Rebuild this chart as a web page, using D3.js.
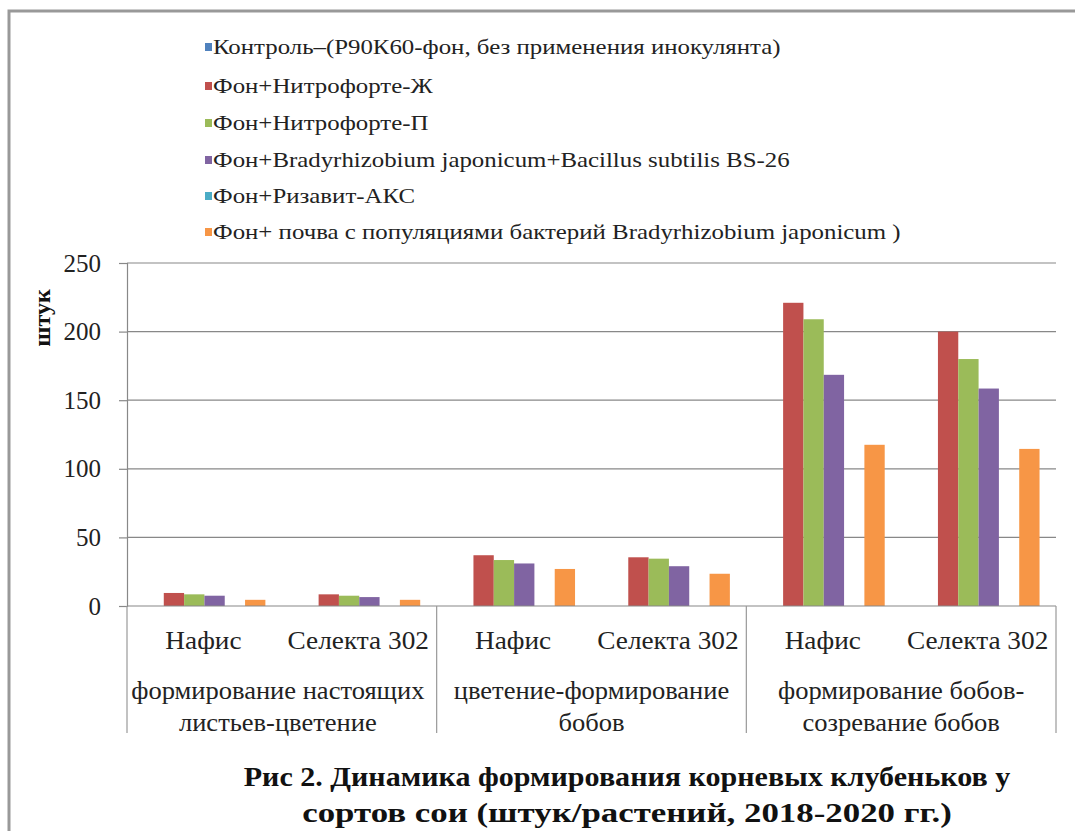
<!DOCTYPE html>
<html>
<head>
<meta charset="utf-8">
<script src="https://cdn.jsdelivr.net/npm/d3@7"></script>
<style>
  body { margin: 0; background: #fff; }
</style>
</head>
<body>
<div id="chart"></div>
<script>
// varieties and phases (two-level category axis)
const varieties = ['Нафис', 'Селекта 302', 'Нафис', 'Селекта 302', 'Нафис', 'Селекта 302'];
const phases = [
  ['формирование настоящих', 'листьев-цветение'],
  ['цветение-формирование', 'бобов'],
  ['формирование бобов-', 'созревание бобов']
];
const seriesNames = [
  'Контроль–(Р90К60-фон, без применения инокулянта)',
  'Фон+Нитрофорте-Ж',
  'Фон+Нитрофорте-П',
  'Фон+Bradyrhizobium  japonicum+Bacillus  subtilis BS-26',
  'Фон+Ризавит-АКС',
  'Фон+ почва с популяциями бактерий Bradyrhizobium  japonicum )'
];
const seriesColors = ['#4F81BD', '#C0504D', '#9BBB59', '#8064A2', '#4BACC6', '#F79646'];
// values per series, one per category (in order of varieties)
const control   = [0, 0, 0, 0, 0, 0];
const nitroZh   = [9.5, 8.5, 37, 35.5, 221, 200];
const nitroP    = [8.5, 7.5, 33.5, 34.5, 209, 180];
const bradyBac  = [7.5, 6.5, 31, 29, 168.5, 158.5];
const rizavit   = [0, 0, 0, 0, 0, 0];
const soilBrady = [4.5, 4.5, 27, 23.5, 117.5, 114.5];
const yTicks = [0, 50, 100, 150, 200, 250];
const caption = ['Рис 2. Динамика  формирования корневых клубеньков у', 'сортов сои (штук/растений,  2018-2020 гг.)'];

const allSeries = [control, nitroZh, nitroP, bradyBac, rizavit, soilBrady];

const W = 1075, H = 831;
const plotL = 127, plotR = 1056, plotT = 263, plotB = 606;
const serif = "'Liberation Serif'";
const catStretch = 1.05;   // variety labels of the scan are a bit wide
const phaseStretch = 1.02;

const svg = d3.select('#chart').append('svg')
  .attr('width', W)
  .attr('height', H);

// outer frame (top and left only, like the cropped scan)
svg.append('path')
  .attr('d', 'M9,' + H + ' V11 H' + W)
  .attr('fill', 'none')
  .attr('stroke', '#999')
  .attr('stroke-width', 3);

const x0 = d3.scaleBand()
  .domain(d3.range(varieties.length))
  .range([plotL, plotR])
  .padding(0);

const x1 = d3.scaleBand()
  .domain(d3.range(allSeries.length))
  .range([0, x0.bandwidth()])
  .paddingInner(0)
  .paddingOuter(0.81);

const y = d3.scaleLinear()
  .domain([0, 250])
  .range([plotB, plotT]);

// gridlines
svg.append('g').selectAll('line')
  .data(yTicks.slice(1))
  .enter().append('line')
  .attr('x1', plotL).attr('x2', plotR)
  .attr('y1', d => y(d)).attr('y2', d => y(d))
  .attr('stroke', '#888')
  .attr('stroke-width', 1.2);

// y axis
const yAxis = d3.axisLeft(y).tickValues(yTicks).tickSize(8).tickPadding(18);
const gy = svg.append('g')
  .attr('transform', 'translate(' + plotL + ',0)')
  .call(yAxis);
gy.select('.domain').attr('stroke', '#888').attr('stroke-width', 1.2);
gy.selectAll('.tick line').attr('stroke', '#888').attr('stroke-width', 1.2);
gy.selectAll('.tick text')
  .style('font-family', serif)
  .style('font-size', '25px')
  .attr('fill', '#222');

// bars
allSeries.forEach(function (vals, s) {
  svg.append('g').selectAll('rect')
    .data(vals)
    .enter().append('rect')
    .attr('x', (d, i) => x0(i) + x1(s))
    .attr('y', d => y(d))
    .attr('width', x1.bandwidth())
    .attr('height', d => y(0) - y(d))
    .attr('fill', seriesColors[s]);
});

// category axis line
svg.append('line')
  .attr('x1', plotL).attr('x2', plotR)
  .attr('y1', y(0)).attr('y2', y(0))
  .attr('stroke', '#888').attr('stroke-width', 1.2);

// phase separators
const sepX = [0, 2, 4].map(i => x0(i)).concat([plotR]);
svg.append('g').selectAll('line')
  .data(sepX)
  .enter().append('line')
  .attr('x1', d => d).attr('x2', d => d)
  .attr('y1', y(0)).attr('y2', 733)
  .attr('stroke', '#999').attr('stroke-width', 1.2);

// variety labels
svg.append('g').selectAll('text')
  .data(varieties)
  .enter().append('text')
  .attr('transform', (d, i) => 'translate(' + (x0(i) + x0.bandwidth() / 2 - 1) + ',649) scale(' + catStretch + ',1)')
  .attr('text-anchor', 'middle')
  .style('font-family', serif)
  .style('font-size', '26px')
  .attr('fill', '#222')
  .text(d => d);

// phase labels
phases.forEach(function (lines, p) {
  const cx = x0(p * 2) + x0.bandwidth() - (p === 0 ? 4 : 0);
  lines.forEach(function (ln, k) {
    svg.append('text')
      .attr('transform', 'translate(' + cx + ',' + (699 + k * 32) + ') scale(' + phaseStretch + ',1)')
      .attr('text-anchor', 'middle')
      .style('font-family', serif)
      .style('font-size', '26px')
      .attr('fill', '#222')
      .text(ln);
  });
});

// y title
svg.append('text')
  .attr('transform', 'translate(50,318) rotate(-90)')
  .attr('text-anchor', 'middle')
  .style('font-family', serif)
  .style('font-size', '24px')
  .style('font-weight', 'bold')
  .attr('fill', '#111')
  .text('штук');

// legend
const legendRows = [47, 86, 123, 160, 196, 232];
const lg = svg.append('g');
lg.selectAll('rect')
  .data(seriesNames)
  .enter().append('rect')
  .attr('x', 205).attr('y', (d, i) => legendRows[i] - 4)
  .attr('width', 7).attr('height', 8)
  .attr('fill', (d, i) => seriesColors[i]);
const lgText = lg.selectAll('text')
  .data(seriesNames)
  .enter().append('text')
  .style('font-family', serif)
  .style('font-size', '21px')
  .attr('fill', '#222')
  .text(d => d);
// scan is stretched sideways: first row runs to x=781
const lgScale = 568 / lgText.nodes()[0].getComputedTextLength();
lgText.attr('transform', (d, i) => 'translate(213,' + (legendRows[i] + 7) + ') scale(' + lgScale + ',1)');

// caption, each line stretched to its width in the scan
const capWidths = [767, 650];
svg.append('g').selectAll('text')
  .data(caption)
  .enter().append('text')
  .attr('text-anchor', 'middle')
  .style('font-family', serif)
  .style('font-size', '28px')
  .style('font-weight', 'bold')
  .attr('fill', '#111')
  .text(d => d)
  .attr('transform', function (d, i) {
    const sx = capWidths[i] / this.getComputedTextLength();
    return 'translate(627,' + (786 + i * 36) + ') scale(' + sx + ',1)';
  });
</script>
</body>
</html>
